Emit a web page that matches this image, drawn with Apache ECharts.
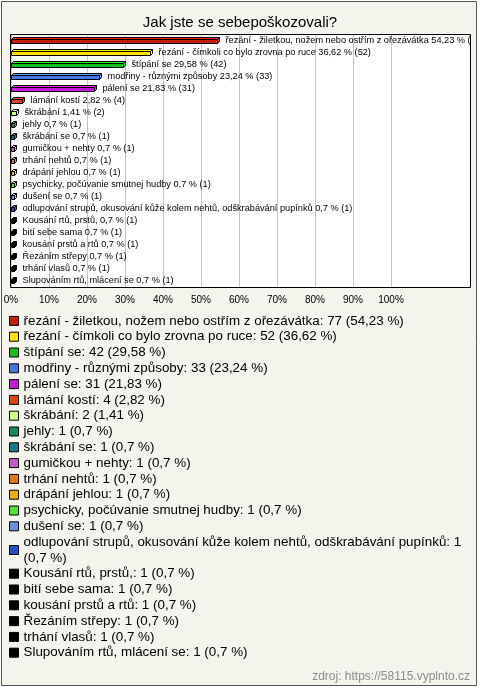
<!DOCTYPE html>
<html>
<head>
<meta charset="utf-8">
<script src="https://cdn.jsdelivr.net/npm/echarts@6/dist/echarts.min.js"></script>
<style>
html,body{margin:0;padding:0;background:#ffffff;}
#chart{width:480px;height:687px;}
</style>
</head>
<body>
<div id="chart"></div>
<script>
const titleText = 'Jak jste se sebepoškozovali?';
const sourceText = 'zdroj: https://58115.vyplnto.cz';
const categories = [
  'řezání - žiletkou, nožem nebo ostřím z ořezávátka',
  'řezání - čímkoli co bylo zrovna po ruce',
  'štípání se',
  'modřiny - různými způsoby',
  'pálení se',
  'lámání kostí',
  'škrábání',
  'jehly',
  'škrábání se',
  'gumičkou + nehty',
  'trhání nehtů',
  'drápání jehlou',
  'psychicky, počúvanie smutnej hudby',
  'dušení se',
  'odlupování strupů, okusování kůže kolem nehtů, odškrabávání pupínků',
  'Kousání rtů, prstů,',
  'bití sebe sama',
  'kousání prstů a rtů',
  'Řezáním střepy',
  'trhání vlasů',
  'Slupováním rtů, mlácení se'
];
const counts = [77, 52, 42, 33, 31, 4, 2, 1, 1, 1, 1, 1, 1, 1, 1, 1, 1, 1, 1, 1, 1];
const percents = [54.23, 36.62, 29.58, 23.24, 21.83, 2.82, 1.41, 0.7, 0.7, 0.7, 0.7, 0.7, 0.7, 0.7, 0.7, 0.7, 0.7, 0.7, 0.7, 0.7, 0.7];
const colors = [
  '#c41e0c', '#fce400', '#12c018', '#4676ec', '#c21ad8', '#e2420e', '#c8fc86',
  '#128a58', '#1a7888', '#c05cc2', '#e67612', '#e8b010', '#4ae63a', '#6a92e2',
  '#2250c2', '#000000', '#000000', '#000000', '#000000', '#000000', '#000000'
];
const xTickValues = [0, 10, 20, 30, 40, 50, 60, 70, 80, 90, 100];

const fmt = v => String(v).replace('.', ',');
const BOX_LEFT = 11, BOX_TOP = 35, BOX_RIGHT = 470, BOX_BOTTOM = 287;

const chart = echarts.init(document.getElementById('chart'), null, {renderer: 'canvas'});

const series = categories.map((name, i) => ({
  type: 'custom',
  name: name,
  itemStyle: {color: colors[i]},
  data: [[percents[i], i]],
  renderItem: function (params, api) {
    const v = api.value(0), idx = api.value(1);
    const p0 = api.coord([0, idx]);
    const p1 = api.coord([v, idx]);
    const c = Math.round(p0[1]);
    const x0 = Math.round(p0[0]) + 0.5;
    const x1 = Math.round(p1[0]) + 0.5;
    const d = 2;
    const top = c - 1.5, bot = c + 2.5;
    const col = colors[idx];
    const dark = echarts.color.lift(col, -0.35);
    const tx = x1 + d + 6;
    return {
      type: 'group',
      clipPath: {type: 'rect', shape: {x: BOX_LEFT, y: BOX_TOP, width: BOX_RIGHT - BOX_LEFT, height: BOX_BOTTOM - BOX_TOP}},
      children: [
        {type: 'polygon', shape: {points: [[x0, top], [x0 + d, top - d], [x1 + d, top - d], [x1, top]]},
          style: {fill: dark, stroke: '#000', lineWidth: 1}},
        {type: 'polygon', shape: {points: [[x1, top], [x1 + d, top - d], [x1 + d, bot - d], [x1, bot]]},
          style: {fill: dark, stroke: '#000', lineWidth: 1}},
        {type: 'rect', shape: {x: x0, y: top, width: x1 - x0, height: bot - top},
          style: {fill: col, stroke: '#000', lineWidth: 1}},
        {type: 'text', style: {
          text: categories[idx] + ' ' + fmt(percents[idx]) + ' % (' + counts[idx] + ')',
          x: tx, y: c - 1, verticalAlign: 'middle', align: 'left',
          fontFamily: 'Liberation Sans', fontSize: 9.2, fill: '#000'
        }}
      ]
    };
  }
}));

const option = {
  backgroundColor: '#ffffff',
  animation: false,
  title: [
    {text: titleText, left: 'center', top: 10,
     textStyle: {fontFamily: 'Liberation Sans', fontSize: 15, fontWeight: 'normal', color: '#000'}},
    {text: sourceText, right: 5, top: 666,
     textStyle: {fontFamily: 'Liberation Sans', fontSize: 12, fontWeight: 'normal', color: '#8c8c8c'}}
  ],
  graphic: [
    {type: 'rect', z: -100, shape: {x: 1.5, y: 1.5, width: 475, height: 684},
     style: {fill: '#f4f3ec', stroke: '#555555', lineWidth: 1}},
    {type: 'rect', z: -50, shape: {x: 10.5, y: 34.5, width: 460, height: 253},
     style: {fill: '#ffffff', stroke: '#000000', lineWidth: 1}}
  ],
  grid: {left: 11, right: 89, top: 35, bottom: 400, containLabel: false},
  xAxis: {
    type: 'value', min: 0, max: 100, interval: 10,
    axisLine: {show: false}, axisTick: {show: false},
    axisLabel: {
      formatter: v => xTickValues.indexOf(v) >= 0 ? v + '%' : '',
      fontFamily: 'Liberation Sans', fontSize: 10, color: '#000', margin: 8
    },
    splitLine: {show: true, lineStyle: {color: '#c4c4c4', width: 1}}
  },
  yAxis: {
    type: 'category', data: categories, inverse: true,
    axisLine: {show: false}, axisTick: {show: false}, axisLabel: {show: false},
    splitLine: {show: false}
  },
  legend: {
    orient: 'vertical', left: 9, top: 313, padding: 0,
    itemWidth: 9, itemHeight: 9, itemGap: 0, icon: 'rect',
    selectedMode: false,
    itemStyle: {borderColor: '#000', borderWidth: 1},
    textStyle: {fontFamily: 'Liberation Sans', fontSize: 13.4, color: '#000', lineHeight: 15.8},
    formatter: name => {
      const i = categories.indexOf(name);
      const head = name + ': ' + counts[i];
      const tail = '(' + fmt(percents[i]) + ' %)';
      return head.length > 60 ? head + '\n' + tail : head + ' ' + tail;
    },
    data: categories
  },
  series: series
};
chart.setOption(option);
</script>
</body>
</html>
